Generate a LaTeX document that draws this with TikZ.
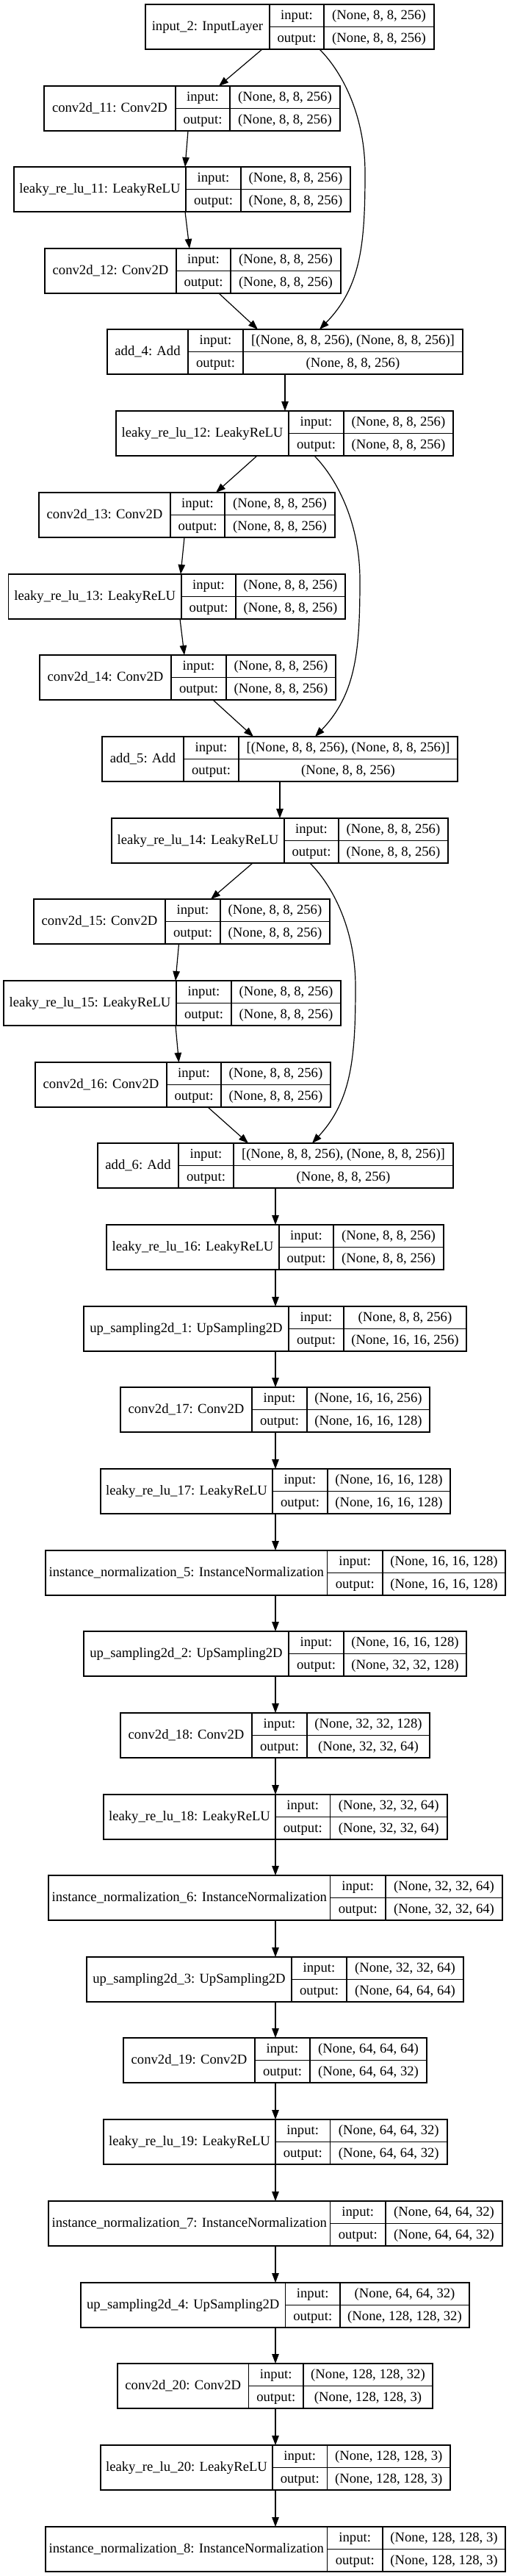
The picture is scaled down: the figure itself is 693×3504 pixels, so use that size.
\documentclass[tikz,border=0pt]{standalone}
\usepackage{fontspec}
\setmainfont{Liberation Serif}
\usetikzlibrary{arrows.meta}
\tikzset{
  kbox/.style={draw=black, rectangle, inner sep=0pt, outer sep=0pt, minimum height=61pt, line width=1.2pt},
  kline/.style={draw=black, line width=1.2pt},
  ktxt/.style={anchor=base, inner sep=0pt, font=\fontsize{18.67pt}{22pt}\selectfont},
  arr/.style={draw=black, line width=1.2pt, -{Triangle[length=13pt,width=9.5pt]}}
}
% name, x0, x1, x2, x3, ytop, label, in, out
\newcommand\klayer[9]{%
  \node[kbox, minimum width={#5pt-#2pt}, anchor=north west] (#1) at (#2,#6) {};
  \draw[kline] (#3,#6) -- (#3,#6+61);
  \draw[kline] (#4,#6) -- (#4,#6+61);
  \draw[kline] (#3,#6+30.5) -- (#5,#6+30.5);
  \node[ktxt] (#1-lab) at ({(#2+#3)/2},#6+35.8) {#7};
  \node[ktxt] (#1-pin) at ({(#3+#4)/2},#6+20.55) {input:};
  \node[ktxt] (#1-pout) at ({(#3+#4)/2},#6+51.05) {output:};
  \node[ktxt] (#1-vin) at ({(#4+#5)/2},#6+20.55) {#8};
  \node[ktxt] (#1-vout) at ({(#4+#5)/2},#6+51.05) {#9};
}
\newcommand\vedge[4]{\draw[arr] (#3,0 |- #1.south) -- (#4,0 |- #2.north);}
\begin{document}
\begin{tikzpicture}[x=1pt,y=-1pt]
\fill[white] (0,0) rectangle (693,3504);
\useasboundingbox (0,0) rectangle (693,3504);
\def\A{(None, 8, 8, 256)}
\klayer{in2}{198}{367}{441}{591}{6}{input\_2: InputLayer}{\A}{\A}
\klayer{c11}{60}{239}{313}{463}{117}{conv2d\_11: Conv2D}{\A}{\A}
\klayer{l11}{19}{253}{328}{477}{227}{leaky\_re\_lu\_11: LeakyReLU}{\A}{\A}
\klayer{c12}{61}{240}{314}{464}{338}{conv2d\_12: Conv2D}{\A}{\A}
\klayer{a4}{146}{256}{331}{630}{448}{add\_4: Add}{[(None, 8, 8, 256), (None, 8, 8, 256)]}{\A}
\klayer{l12}{158}{393}{468}{617}{559}{leaky\_re\_lu\_12: LeakyReLU}{\A}{\A}
\klayer{c13}{53}{232}{306}{456}{670}{conv2d\_13: Conv2D}{\A}{\A}
\klayer{l13}{11.5}{247}{321}{470}{781}{leaky\_re\_lu\_13: LeakyReLU}{\A}{\A}
\klayer{c14}{54}{233}{308}{457}{891}{conv2d\_14: Conv2D}{\A}{\A}
\klayer{a5}{139}{250}{325}{623}{1002}{add\_5: Add}{[(None, 8, 8, 256), (None, 8, 8, 256)]}{\A}
\klayer{l14}{152}{387}{461}{610}{1113}{leaky\_re\_lu\_14: LeakyReLU}{\A}{\A}
\klayer{c15}{46}{225}{300}{449}{1223}{conv2d\_15: Conv2D}{\A}{\A}
\klayer{l15}{5}{240}{315}{464}{1334}{leaky\_re\_lu\_15: LeakyReLU}{\A}{\A}
\klayer{c16}{48}{227}{301}{450}{1445}{conv2d\_16: Conv2D}{\A}{\A}
\klayer{a6}{133}{243}{318}{617}{1555}{add\_6: Add}{[(None, 8, 8, 256), (None, 8, 8, 256)]}{\A}
\klayer{l16}{145}{380}{454}{604}{1666}{leaky\_re\_lu\_16: LeakyReLU}{\A}{\A}
\klayer{u1}{114}{393}{468}{635}{1777}{up\_sampling2d\_1: UpSampling2D}{\A}{(None, 16, 16, 256)}
\klayer{c17}{164}{343}{418}{585}{1887}{conv2d\_17: Conv2D}{(None, 16, 16, 256)}{(None, 16, 16, 128)}
\klayer{l17}{137}{371}{446}{613}{1998}{leaky\_re\_lu\_17: LeakyReLU}{(None, 16, 16, 128)}{(None, 16, 16, 128)}
\klayer{n5}{62}{445.5}{521}{688}{2109}{instance\_normalization\_5: InstanceNormalization}{(None, 16, 16, 128)}{(None, 16, 16, 128)}
\klayer{u2}{114}{393}{468}{635}{2219}{up\_sampling2d\_2: UpSampling2D}{(None, 16, 16, 128)}{(None, 32, 32, 128)}
\klayer{c18}{164}{343}{418}{585}{2330}{conv2d\_18: Conv2D}{(None, 32, 32, 128)}{(None, 32, 32, 64)}
\klayer{l18}{141}{375}{449.5}{609}{2441}{leaky\_re\_lu\_18: LeakyReLU}{(None, 32, 32, 64)}{(None, 32, 32, 64)}
\klayer{n6}{66}{449.5}{525}{684}{2551}{instance\_normalization\_6: InstanceNormalization}{(None, 32, 32, 64)}{(None, 32, 32, 64)}
\klayer{u3}{118}{397}{472}{631}{2662}{up\_sampling2d\_3: UpSampling2D}{(None, 32, 32, 64)}{(None, 64, 64, 64)}
\klayer{c19}{168}{347}{422}{581}{2772}{conv2d\_19: Conv2D}{(None, 64, 64, 64)}{(None, 64, 64, 32)}
\klayer{l19}{141}{375}{449.5}{609}{2883}{leaky\_re\_lu\_19: LeakyReLU}{(None, 64, 64, 32)}{(None, 64, 64, 32)}
\klayer{n7}{66}{449.5}{525}{684}{2994}{instance\_normalization\_7: InstanceNormalization}{(None, 64, 64, 32)}{(None, 64, 64, 32)}
\klayer{u4}{110}{388.5}{463}{639}{3105}{up\_sampling2d\_4: UpSampling2D}{(None, 64, 64, 32)}{(None, 128, 128, 32)}
\klayer{c20}{160}{338.5}{413}{589}{3215}{conv2d\_20: Conv2D}{(None, 128, 128, 32)}{(None, 128, 128, 3)}
\klayer{l20}{137}{371}{445.5}{613}{3326}{leaky\_re\_lu\_20: LeakyReLU}{(None, 128, 128, 3)}{(None, 128, 128, 3)}
\klayer{n8}{62}{445.5}{521}{688}{3437}{instance\_normalization\_8: InstanceNormalization}{(None, 128, 128, 3)}{(None, 128, 128, 3)}
% upper edges
\vedge{in2}{c11}{357}{298}
\vedge{c11}{l11}{256}{252}
\vedge{l11}{c12}{252}{258}
\vedge{c12}{a4}{298}{351}
\vedge{a4}{l12}{388}{388}
\vedge{l12}{c13}{350}{294}
\vedge{c13}{l13}{251}{246}
\vedge{l13}{c14}{245}{251}
\vedge{c14}{a5}{290}{345}
\vedge{a5}{l14}{381}{381}
\vedge{l14}{c15}{344}{287}
\vedge{c15}{l15}{243.5}{239}
\vedge{l15}{c16}{239}{243.5}
\vedge{c16}{a6}{283}{338}
\vedge{a6}{l16}{375}{375}
% skip connections
\draw[arr] (435,0 |- in2.south) .. controls (468,100) and (497,160) .. (497,235)
  .. controls (497,330) and (492,390) .. (435,0 |- a4.north);
\draw[arr] (428,0 |- l12.south) .. controls (461,654) and (490,714) .. (490,789)
  .. controls (490,884) and (485,944) .. (429,0 |- a5.north);
\draw[arr] (422,0 |- l14.south) .. controls (455,1207) and (484,1267) .. (484,1342)
  .. controls (484,1437) and (479,1497) .. (425,0 |- a6.north);
% lower edges
\vedge{l16}{u1}{375}{375}
\vedge{u1}{c17}{375}{375}
\vedge{c17}{l17}{375}{375}
\vedge{l17}{n5}{375}{375}
\vedge{n5}{u2}{375}{375}
\vedge{u2}{c18}{375}{375}
\vedge{c18}{l18}{375}{375}
\vedge{l18}{n6}{375}{375}
\vedge{n6}{u3}{375}{375}
\vedge{u3}{c19}{375}{375}
\vedge{c19}{l19}{375}{375}
\vedge{l19}{n7}{375}{375}
\vedge{n7}{u4}{375}{375}
\vedge{u4}{c20}{375}{375}
\vedge{c20}{l20}{375}{375}
\vedge{l20}{n8}{375}{375}
\end{tikzpicture}
\end{document}
